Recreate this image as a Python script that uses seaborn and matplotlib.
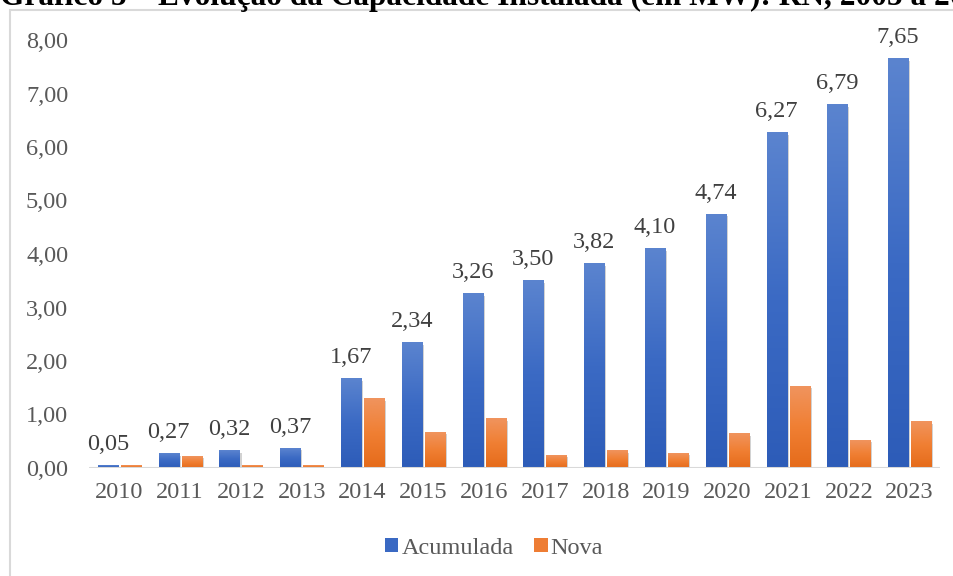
import numpy as np
import pandas as pd
import seaborn as sns
import matplotlib.pyplot as plt
from matplotlib.colors import LinearSegmentedColormap
from matplotlib.patches import Rectangle
import matplotlib.patheffects as pe

anos = ["2010", "2011", "2012", "2013", "2014", "2015", "2016",
        "2017", "2018", "2019", "2020", "2021", "2022", "2023"]
acumulada = [0.05, 0.27, 0.32, 0.37, 1.67, 2.34, 3.26, 3.50, 3.82, 4.10, 4.74, 6.27, 6.79, 7.65]
nova = [0.05, 0.22, 0.05, 0.05, 1.30, 0.67, 0.92, 0.24, 0.32, 0.28, 0.64, 1.53, 0.52, 0.86]
series = ["Acumulada", "Nova"]
yticks = [0, 1, 2, 3, 4, 5, 6, 7, 8]
titulo = "Gráfico 5 – Evolução da Capacidade Instalada (em MW): RN, 2005 a 2023"

df = pd.DataFrame({
    "Ano": anos * 2,
    "Valor": acumulada + nova,
    "Série": [series[0]] * len(anos) + [series[1]] * len(anos),
})

sns.set_theme(style="white")
plt.rcParams["font.family"] = ["Liberation Serif", "DejaVu Serif"]

FS = 17.5
blue_mid = "#4472c4"
orange_mid = "#ed7d31"
cmap_blue = LinearSegmentedColormap.from_list("b", ["#2d5cb8", "#3b6ac4", "#5b84cf"])
cmap_orange = LinearSegmentedColormap.from_list("o", ["#e56b1a", "#f07f33", "#f0945e"])

fig = plt.figure(figsize=(9.54, 5.76), dpi=100)
ax = fig.add_axes([89 / 954, 1 - 468 / 576, 851 / 954, 428 / 576])

sns.barplot(data=df, x="Ano", y="Valor", hue="Série", hue_order=series,
            palette=[blue_mid, orange_mid], width=0.757, gap=0.13,
            legend=False, ax=ax, zorder=1)

grad = np.linspace(0, 1, 256).reshape(-1, 1)
bars = [p for p in ax.patches if isinstance(p, Rectangle)]
n = len(anos)
for i, p in enumerate(bars):
    x0, y0 = p.get_x(), p.get_y()
    w, h = p.get_width(), p.get_height()
    cm = cmap_blue if i < n else cmap_orange
    p.set_facecolor("none")
    p.set_edgecolor("none")
    p.set_path_effects([pe.SimplePatchShadow(offset=(1.5, -1.5), shadow_rgbFace="#7f7f7f", alpha=0.35)])
    ax.imshow(grad, cmap=cm, extent=[x0, x0 + w, y0, y0 + h], origin="lower",
              aspect="auto", zorder=2, interpolation="bilinear")

# data labels on Acumulada
for i, p in enumerate(bars[:n]):
    v = acumulada[i]
    ax.annotate(f"{v:.2f}".replace(".", ","), (p.get_x() + p.get_width() / 2, v),
                xytext=(0, 7.5), textcoords="offset points", ha="center", va="bottom",
                fontsize=FS, color="#404040", annotation_clip=False)

ax.set_xlim(-0.5, n - 0.5)
ax.set_ylim(0, 8)
ax.axhline(0, color="#d9d9d9", lw=2.2, zorder=3)
for s in ax.spines.values():
    s.set_visible(False)
ax.set_yticks(yticks)
ax.set_yticklabels([f"{t:.2f}".replace(".", ",") for t in yticks])
ax.tick_params(axis="y", length=0, pad=15, labelsize=FS, labelcolor="#595959")
ax.tick_params(axis="x", length=0, pad=10, labelsize=FS, labelcolor="#595959")
ax.set_xlabel("")
ax.set_ylabel("")
ax.grid(False)

handles = [Rectangle((0, 0), 1, 1, fc=c, ec="none") for c in ["#3a69c3", "#ee7d34"]]
fig.legend(handles, series, loc="center", bbox_to_anchor=(494 / 954, 1 - 548 / 576),
           ncol=2, frameon=False, fontsize=FS, handlelength=0.55, handleheight=0.55,
           handletextpad=0.12, columnspacing=0.85, labelcolor="#595959")

fig.add_artist(Rectangle((10 / 954, -1), 2, 2 - 10 / 576, transform=fig.transFigure,
                         fill=False, ec="#d9d9d9", lw=1.5))
fig.text(0.0, 1 - 5 / 576, titulo, ha="left", va="baseline", fontsize=22.6,
         fontweight="bold", color="black")

fig.savefig("out.png", dpi=100)
